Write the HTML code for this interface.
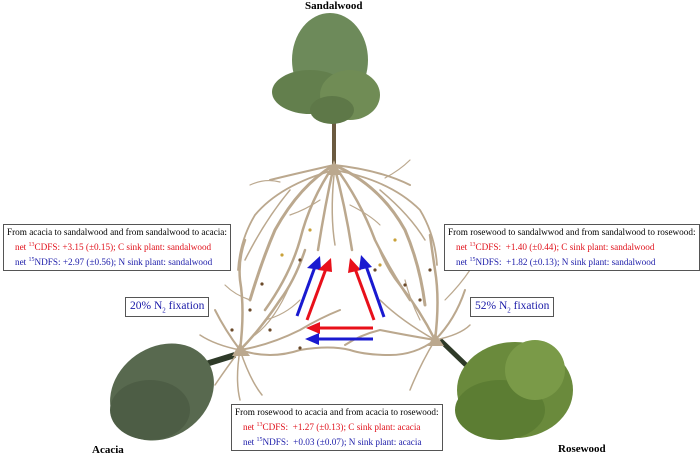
<!DOCTYPE html>
<html><head><meta charset="utf-8"><style>
html,body{margin:0;padding:0;background:#fff;}
body{width:700px;height:456px;position:relative;overflow:hidden;font-family:"Liberation Serif",serif;}
.box{position:absolute;border:1px solid #555;background:#fff;font-size:9.2px;line-height:13px;padding:1px 3px;white-space:nowrap;}
.r{color:#e0101a;padding-left:8px}.b{color:#1a1aa8;padding-left:8px}
.lab{position:absolute;font-weight:bold;font-size:11px;}
.fx{position:absolute;border:1px solid #555;color:#1a1aa8;font-size:11.5px;background:#fff;padding:2px 4px;white-space:nowrap;}
sup{font-size:6px;}
</style></head><body>
<svg width="700" height="456" style="position:absolute;left:0;top:0">
<!-- sandalwood tree -->
<line x1="334" y1="120" x2="334" y2="168" stroke="#6b5a40" stroke-width="4"/>
<ellipse cx="330" cy="60" rx="38" ry="47" fill="#6d8a5a"/>
<ellipse cx="310" cy="92" rx="38" ry="22" fill="#637f4d"/>
<ellipse cx="350" cy="95" rx="30" ry="25" fill="#708c55"/>
<ellipse cx="332" cy="110" rx="22" ry="14" fill="#5e7848"/>
<!-- acacia -->
<path d="M180 372 L235 355" stroke="#2e3a28" stroke-width="6"/>
<ellipse cx="162" cy="392" rx="55" ry="45" fill="#58694f" transform="rotate(-35 162 392)"/>
<ellipse cx="150" cy="410" rx="40" ry="30" fill="#4d5d45"/>
<!-- rosewood -->
<path d="M440 340 L466 365" stroke="#2e3a28" stroke-width="5"/>
<ellipse cx="515" cy="390" rx="58" ry="48" fill="#6a8a3c"/>
<ellipse cx="500" cy="410" rx="45" ry="30" fill="#5c7d33"/>
<ellipse cx="535" cy="370" rx="30" ry="30" fill="#7a9a48"/>
<g stroke="#bba88e" fill="none" stroke-linecap="round">
<!-- sandalwood roots -->
<path d="M334 165 Q300 185 275 230 Q262 260 250 300" stroke-width="3"/>
<path d="M334 165 Q310 200 300 240 Q290 275 265 310" stroke-width="2.5"/>
<path d="M334 165 Q325 205 318 250" stroke-width="2.5"/>
<path d="M334 165 Q345 205 352 250" stroke-width="2.5"/>
<path d="M334 165 Q360 200 375 240 Q390 270 410 300" stroke-width="2.5"/>
<path d="M334 165 Q380 185 405 230 Q420 265 425 305" stroke-width="3"/>
<path d="M334 165 Q290 175 270 180" stroke-width="2"/>
<path d="M334 165 Q380 170 410 185" stroke-width="2"/>
<path d="M334 170 Q280 185 255 215 Q240 240 238 270" stroke-width="1.8"/>
<path d="M334 170 Q390 180 420 210 Q435 235 437 265" stroke-width="1.8"/>
<path d="M290 190 Q265 220 245 260" stroke-width="1.5"/>
<path d="M380 190 Q410 215 425 240" stroke-width="1.5"/>
<path d="M320 200 Q305 210 290 215" stroke-width="1.2"/>
<path d="M350 205 Q370 215 380 225" stroke-width="1.2"/>
<path d="M334 175 Q330 215 335 245" stroke-width="1.5"/>
<path d="M385 178 Q400 170 410 160" stroke-width="1.2"/>
<path d="M280 182 Q265 178 250 185" stroke-width="1.2"/>
<!-- acacia roots -->
<path d="M240 350 Q260 330 280 300 Q295 280 305 250" stroke-width="2.5"/>
<path d="M240 350 Q245 310 240 280 Q238 260 245 240" stroke-width="2.5"/>
<path d="M240 350 Q270 345 300 330 Q320 318 340 310" stroke-width="2"/>
<path d="M240 350 Q270 360 300 350 Q330 345 350 350" stroke-width="2"/>
<path d="M240 350 Q225 330 215 310" stroke-width="2"/>
<path d="M240 350 Q250 380 262 395" stroke-width="1.5"/>
<path d="M240 350 Q225 370 215 385" stroke-width="1.5"/>
<path d="M240 350 Q215 345 200 335" stroke-width="1.5"/>
<path d="M240 350 Q235 380 240 400" stroke-width="1.5"/>
<path d="M250 300 Q235 295 225 285" stroke-width="1.2"/>
<path d="M265 320 Q285 315 300 300" stroke-width="1.2"/>
<path d="M255 335 Q275 320 290 285" stroke-width="1.2"/>
<!-- rosewood roots -->
<path d="M435 340 Q420 310 400 285 Q388 270 380 250" stroke-width="2.5"/>
<path d="M435 340 Q440 300 435 270 Q432 250 430 235" stroke-width="2.5"/>
<path d="M435 340 Q405 335 380 330 Q360 335 345 345" stroke-width="2"/>
<path d="M435 340 Q415 355 390 355 Q365 355 350 350" stroke-width="2"/>
<path d="M435 340 Q455 320 465 290" stroke-width="2"/>
<path d="M435 340 Q420 365 410 390" stroke-width="1.5"/>
<path d="M435 340 Q400 320 380 300" stroke-width="1.5"/>
<path d="M435 340 Q460 335 470 325" stroke-width="1.5"/>
<path d="M445 300 Q460 285 470 270" stroke-width="1.2"/>
<path d="M420 320 Q410 300 405 280" stroke-width="1.2"/>
</g>
<g fill="#6b4a2a">
<circle cx="262" cy="284" r="1.6"/><circle cx="250" cy="310" r="1.6"/><circle cx="300" cy="260" r="1.6"/><circle cx="232" cy="330" r="1.6"/><circle cx="270" cy="330" r="1.6"/>
<circle cx="405" cy="285" r="1.6"/><circle cx="420" cy="300" r="1.6"/><circle cx="430" cy="270" r="1.6"/><circle cx="375" cy="270" r="1.6"/><circle cx="300" cy="348" r="1.6"/>
</g>
<g fill="#c9a23a"><circle cx="282" cy="255" r="1.6"/><circle cx="380" cy="265" r="1.6"/><circle cx="310" cy="230" r="1.6"/><circle cx="395" cy="240" r="1.6"/></g>
<polygon points="334,160 328,175 340,175" fill="#bba88e"/>
<polygon points="240,343 232,356 250,356" fill="#bba88e"/>
<polygon points="435,333 428,346 444,346" fill="#bba88e"/>
<!-- arrows -->
<g stroke-width="3" fill="none">
<line x1="297" y1="316" x2="316" y2="264" stroke="#1a1ad0"/>
<line x1="307" y1="320" x2="327" y2="266" stroke="#e8101a"/>
<line x1="374" y1="320" x2="354" y2="266" stroke="#e8101a"/>
<line x1="384" y1="317" x2="365" y2="263" stroke="#1a1ad0"/>
<line x1="373" y1="328" x2="315" y2="328" stroke="#e8101a"/>
<line x1="373" y1="339" x2="314" y2="339" stroke="#1a1ad0"/>
</g>
<polygon points="320,256 307,268 321,270" fill="#1a1ad0"/>
<polygon points="331,258 318,270 332,272" fill="#e8101a"/>
<polygon points="350,258 348,273 361,270" fill="#e8101a"/>
<polygon points="361,255 359,270 372,267" fill="#1a1ad0"/>
<polygon points="306,328 320,322 320,334" fill="#e8101a"/>
<polygon points="305,339 319,333 319,345" fill="#1a1ad0"/>
</svg>
<div class="lab" style="left:305px;top:0px">Sandalwood</div>
<div class="lab" style="left:92px;top:444px">Acacia</div>
<div class="lab" style="left:558px;top:443px">Rosewood</div>
<div class="box" style="left:3px;top:224px">From acacia to sandalwood and from sandalwood to acacia:<br><span class="r">net <sup>13</sup>CDFS: +3.15 (±0.15); C sink plant: sandalwood</span><br><span class="b">net <sup>15</sup>NDFS: +2.97 (±0.56); N sink plant: sandalwood</span></div>
<div class="box" style="left:444px;top:224px">From rosewood to sandalwwod and from sandalwood to rosewood:<br><span class="r">net <sup>13</sup>CDFS:&nbsp; +1.40 (±0.44); C sink plant: sandalwood</span><br><span class="b">net <sup>15</sup>NDFS:&nbsp; +1.82 (±0.13); N sink plant: sandalwood</span></div>
<div class="box" style="left:231px;top:404px">From rosewood to acacia and from acacia to rosewood:<br><span class="r">net <sup>13</sup>CDFS:&nbsp; +1.27 (±0.13); C sink plant: acacia</span><br><span class="b">net <sup>15</sup>NDFS:&nbsp; +0.03 (±0.07); N sink plant: acacia</span></div>
<div class="fx" style="left:125px;top:297px">20% N<sub style="font-size:7px">2</sub> fixation</div>
<div class="fx" style="left:470px;top:297px">52% N<sub style="font-size:7px">2</sub> fixation</div>
</body></html>
